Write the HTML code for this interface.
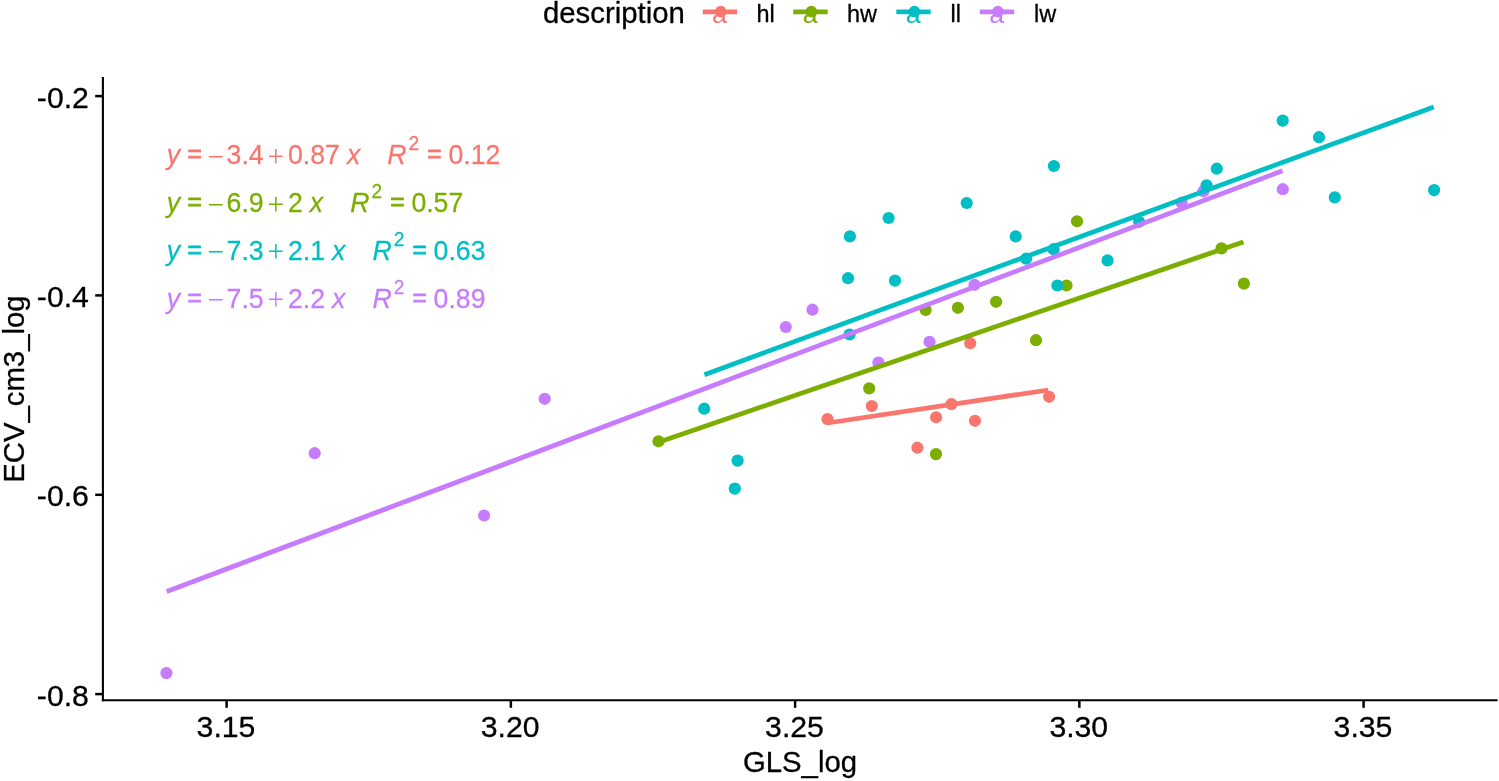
<!DOCTYPE html>
<html lang="en"><head><meta charset="utf-8"><title>ECV_cm3_log vs GLS_log</title>
<style>
html,body{margin:0;padding:0;background:#fff;}
svg{display:block;}
text{font-family:"Liberation Sans",Arial,sans-serif;stroke-linejoin:round;}
.ax{font-size:29.33px;fill:#000;stroke:#000;stroke-width:0.3px;}
.lg{font-size:23.47px;fill:#000;stroke:#000;stroke-width:0.3px;}
.eq{font-size:26.67px;stroke-width:0.25px;}
.eqs{stroke-width:0.9px;font-size:24.5px;}
.it{font-style:italic;}
.sy{font-family:"Liberation Serif","Times New Roman",serif;font-size:29.5px;stroke-width:0;}
.sup{font-size:19.2px;}
</style></head><body>
<svg width="1499" height="781" viewBox="0 0 1499 781">
<rect width="1499" height="781" fill="#fff"/>
<g id="points">
<circle cx="166.4" cy="673.1" r="6.1" fill="#C77CFF"/>
<circle cx="314.7" cy="453.2" r="6.1" fill="#C77CFF"/>
<circle cx="484.1" cy="515.5" r="6.1" fill="#C77CFF"/>
<circle cx="544.7" cy="398.8" r="6.1" fill="#C77CFF"/>
<circle cx="785.8" cy="327.0" r="6.1" fill="#C77CFF"/>
<circle cx="812.5" cy="309.7" r="6.1" fill="#C77CFF"/>
<circle cx="878.4" cy="362.5" r="6.1" fill="#C77CFF"/>
<circle cx="929.5" cy="341.8" r="6.1" fill="#C77CFF"/>
<circle cx="974.5" cy="284.8" r="6.1" fill="#C77CFF"/>
<circle cx="1181.7" cy="202.7" r="6.1" fill="#C77CFF"/>
<circle cx="1203.4" cy="191.3" r="6.1" fill="#C77CFF"/>
<circle cx="1282.8" cy="189.2" r="6.1" fill="#C77CFF"/>
<circle cx="658.5" cy="441.3" r="6.1" fill="#7CAE00"/>
<circle cx="869.2" cy="388.4" r="6.1" fill="#7CAE00"/>
<circle cx="925.6" cy="309.9" r="6.1" fill="#7CAE00"/>
<circle cx="936.0" cy="454.1" r="6.1" fill="#7CAE00"/>
<circle cx="957.9" cy="307.8" r="6.1" fill="#7CAE00"/>
<circle cx="996.1" cy="301.8" r="6.1" fill="#7CAE00"/>
<circle cx="1036.0" cy="340.2" r="6.1" fill="#7CAE00"/>
<circle cx="1077.0" cy="221.3" r="6.1" fill="#7CAE00"/>
<circle cx="1066.5" cy="285.5" r="6.1" fill="#7CAE00"/>
<circle cx="1221.5" cy="248.4" r="6.1" fill="#7CAE00"/>
<circle cx="1243.9" cy="283.6" r="6.1" fill="#7CAE00"/>
<circle cx="827.5" cy="419.1" r="6.1" fill="#F8766D"/>
<circle cx="871.8" cy="406.0" r="6.1" fill="#F8766D"/>
<circle cx="917.4" cy="447.7" r="6.1" fill="#F8766D"/>
<circle cx="936.1" cy="417.3" r="6.1" fill="#F8766D"/>
<circle cx="951.4" cy="404.1" r="6.1" fill="#F8766D"/>
<circle cx="970.2" cy="343.2" r="6.1" fill="#F8766D"/>
<circle cx="975.0" cy="420.8" r="6.1" fill="#F8766D"/>
<circle cx="1049.1" cy="396.8" r="6.1" fill="#F8766D"/>
<circle cx="704.2" cy="408.7" r="6.1" fill="#00BFC4"/>
<circle cx="734.8" cy="488.6" r="6.1" fill="#00BFC4"/>
<circle cx="737.6" cy="460.6" r="6.1" fill="#00BFC4"/>
<circle cx="848.0" cy="278.2" r="6.1" fill="#00BFC4"/>
<circle cx="849.6" cy="334.5" r="6.1" fill="#00BFC4"/>
<circle cx="849.9" cy="236.4" r="6.1" fill="#00BFC4"/>
<circle cx="888.6" cy="218.0" r="6.1" fill="#00BFC4"/>
<circle cx="895.0" cy="280.6" r="6.1" fill="#00BFC4"/>
<circle cx="966.7" cy="203.0" r="6.1" fill="#00BFC4"/>
<circle cx="1015.7" cy="236.4" r="6.1" fill="#00BFC4"/>
<circle cx="1026.1" cy="258.7" r="6.1" fill="#00BFC4"/>
<circle cx="1053.9" cy="166.0" r="6.1" fill="#00BFC4"/>
<circle cx="1053.6" cy="249.2" r="6.1" fill="#00BFC4"/>
<circle cx="1057.4" cy="285.5" r="6.1" fill="#00BFC4"/>
<circle cx="1107.5" cy="260.4" r="6.1" fill="#00BFC4"/>
<circle cx="1139.1" cy="221.8" r="6.1" fill="#00BFC4"/>
<circle cx="1206.6" cy="185.3" r="6.1" fill="#00BFC4"/>
<circle cx="1216.8" cy="168.7" r="6.1" fill="#00BFC4"/>
<circle cx="1282.7" cy="120.6" r="6.1" fill="#00BFC4"/>
<circle cx="1319.0" cy="137.2" r="6.1" fill="#00BFC4"/>
<circle cx="1334.8" cy="197.4" r="6.1" fill="#00BFC4"/>
<circle cx="1434.1" cy="190.1" r="6.1" fill="#00BFC4"/>
</g>
<g id="fits" fill="none" stroke-linecap="butt">
<line x1="827.4" y1="423.0" x2="1048.3" y2="390.0" stroke="#F8766D" stroke-width="4.8"/>
<line x1="658.4" y1="442.2" x2="1243.4" y2="241.9" stroke="#7CAE00" stroke-width="4.8"/>
<line x1="704.4" y1="374.7" x2="1433.8" y2="106.9" stroke="#00BFC4" stroke-width="4.8"/>
<line x1="166.7" y1="591.5" x2="1282.5" y2="170.8" stroke="#C77CFF" stroke-width="4.8"/>
</g>
<g id="axes" stroke="#000" stroke-width="2.1" fill="none">
<line x1="102.9" y1="77" x2="102.9" y2="701.2"/>
<line x1="101.9" y1="700.2" x2="1497.6" y2="700.2"/>
<line x1="95.2" y1="96.1" x2="102.9" y2="96.1" stroke-width="2.5"/>
<line x1="95.2" y1="295.40000000000003" x2="102.9" y2="295.40000000000003" stroke-width="2.5"/>
<line x1="95.2" y1="494.8" x2="102.9" y2="494.8" stroke-width="2.5"/>
<line x1="95.2" y1="694.0999999999999" x2="102.9" y2="694.0999999999999" stroke-width="2.5"/>
<line x1="226.6" y1="700.2" x2="226.6" y2="707.8" stroke-width="2.5"/>
<line x1="510.85" y1="700.2" x2="510.85" y2="707.8" stroke-width="2.5"/>
<line x1="795.1" y1="700.2" x2="795.1" y2="707.8" stroke-width="2.5"/>
<line x1="1079.35" y1="700.2" x2="1079.35" y2="707.8" stroke-width="2.5"/>
<line x1="1363.6" y1="700.2" x2="1363.6" y2="707.8" stroke-width="2.5"/>
</g>
<g class="ax">
<text x="88.9" y="107.7" text-anchor="end" font-size="30.2px">-0.2</text>
<text x="88.9" y="307.0" text-anchor="end" font-size="30.2px">-0.4</text>
<text x="88.9" y="506.4" text-anchor="end" font-size="30.2px">-0.6</text>
<text x="88.9" y="705.7" text-anchor="end" font-size="30.2px">-0.8</text>
<text x="226.0" y="737.4" text-anchor="middle" font-size="30.2px">3.15</text>
<text x="510.2" y="737.4" text-anchor="middle" font-size="30.2px">3.20</text>
<text x="794.5" y="737.4" text-anchor="middle" font-size="30.2px">3.25</text>
<text x="1078.8" y="737.4" text-anchor="middle" font-size="30.2px">3.30</text>
<text x="1363.0" y="737.4" text-anchor="middle" font-size="30.2px">3.35</text>
<text x="800" y="772.3" text-anchor="middle">GLS_log</text>
<text transform="translate(24.4,389.1) rotate(-90)" text-anchor="middle">ECV_cm3_log</text>
</g>
<g id="legend">
<text class="ax" x="543.0" y="23.0">description</text>
<text x="719.5" y="23.0" text-anchor="middle" font-size="26.67px" fill="#F8766D">a</text>
<line x1="702.6999999999999" y1="11.9" x2="737.1" y2="11.9" stroke="#F8766D" stroke-width="4.6"/>
<circle cx="720.8" cy="11.6" r="5.8" fill="#F8766D"/>
<text class="lg" x="756.4" y="21.6">hl</text>
<text x="810.1" y="23.0" text-anchor="middle" font-size="26.67px" fill="#7CAE00">a</text>
<line x1="793.3" y1="11.9" x2="827.7" y2="11.9" stroke="#7CAE00" stroke-width="4.6"/>
<circle cx="811.4" cy="11.6" r="5.8" fill="#7CAE00"/>
<text class="lg" x="847.0" y="21.6">hw</text>
<text x="913.1" y="23.0" text-anchor="middle" font-size="26.67px" fill="#00BFC4">a</text>
<line x1="896.3" y1="11.9" x2="930.7" y2="11.9" stroke="#00BFC4" stroke-width="4.6"/>
<circle cx="914.4" cy="11.6" r="5.8" fill="#00BFC4"/>
<text class="lg" x="950.6" y="21.6">ll</text>
<text x="996.6" y="23.0" text-anchor="middle" font-size="26.67px" fill="#C77CFF">a</text>
<line x1="979.8" y1="11.9" x2="1014.2" y2="11.9" stroke="#C77CFF" stroke-width="4.6"/>
<circle cx="997.9" cy="11.6" r="5.8" fill="#C77CFF"/>
<text class="lg" x="1034.0" y="21.6">lw</text>
</g>
<g id="equations" class="eq">
<g transform="translate(0,163.8) scale(1,1.06)">
<text fill="#F8766D" stroke="#F8766D">
<tspan class="it" x="166.7" y="0">y</tspan>
<tspan class="eqs" x="187.5" y="-1.89">=</tspan>
<tspan class="sy" x="207.6" y="2.55">−</tspan>
<tspan x="226.6" y="0">3.4</tspan>
<tspan class="sy" x="267.6" y="2.55">+</tspan>
<tspan x="288.0" y="0">0.87</tspan>
<tspan class="it" x="346.9" y="0">x</tspan>
<tspan class="it" x="387.2" y="0">R</tspan>
<tspan class="sup" x="408.5" y="-12.83">2</tspan>
<tspan class="eqs" x="427.3" y="-1.89">=</tspan>
<tspan x="448.4" y="0">0.12</tspan>
</text></g>
<g transform="translate(0,211.8) scale(1,1.06)">
<text fill="#7CAE00" stroke="#7CAE00">
<tspan class="it" x="166.7" y="0">y</tspan>
<tspan class="eqs" x="187.5" y="-1.89">=</tspan>
<tspan class="sy" x="207.6" y="2.55">−</tspan>
<tspan x="226.6" y="0">6.9</tspan>
<tspan class="sy" x="267.6" y="2.55">+</tspan>
<tspan x="288.0" y="0">2</tspan>
<tspan class="it" x="309.8" y="0">x</tspan>
<tspan class="it" x="350.2" y="0">R</tspan>
<tspan class="sup" x="371.5" y="-12.83">2</tspan>
<tspan class="eqs" x="390.3" y="-1.89">=</tspan>
<tspan x="411.4" y="0">0.57</tspan>
</text></g>
<g transform="translate(0,259.7) scale(1,1.06)">
<text fill="#00BFC4" stroke="#00BFC4">
<tspan class="it" x="166.7" y="0">y</tspan>
<tspan class="eqs" x="187.5" y="-1.89">=</tspan>
<tspan class="sy" x="207.6" y="2.55">−</tspan>
<tspan x="226.6" y="0">7.3</tspan>
<tspan class="sy" x="267.6" y="2.55">+</tspan>
<tspan x="288.0" y="0">2.1</tspan>
<tspan class="it" x="332.1" y="0">x</tspan>
<tspan class="it" x="372.4" y="0">R</tspan>
<tspan class="sup" x="393.7" y="-12.83">2</tspan>
<tspan class="eqs" x="412.5" y="-1.89">=</tspan>
<tspan x="433.6" y="0">0.63</tspan>
</text></g>
<g transform="translate(0,307.6) scale(1,1.06)">
<text fill="#C77CFF" stroke="#C77CFF">
<tspan class="it" x="166.7" y="0">y</tspan>
<tspan class="eqs" x="187.5" y="-1.89">=</tspan>
<tspan class="sy" x="207.6" y="2.55">−</tspan>
<tspan x="226.6" y="0">7.5</tspan>
<tspan class="sy" x="267.6" y="2.55">+</tspan>
<tspan x="288.0" y="0">2.2</tspan>
<tspan class="it" x="332.1" y="0">x</tspan>
<tspan class="it" x="372.4" y="0">R</tspan>
<tspan class="sup" x="393.7" y="-12.83">2</tspan>
<tspan class="eqs" x="412.5" y="-1.89">=</tspan>
<tspan x="433.6" y="0">0.89</tspan>
</text></g>
</g>
</svg>
</body></html>
